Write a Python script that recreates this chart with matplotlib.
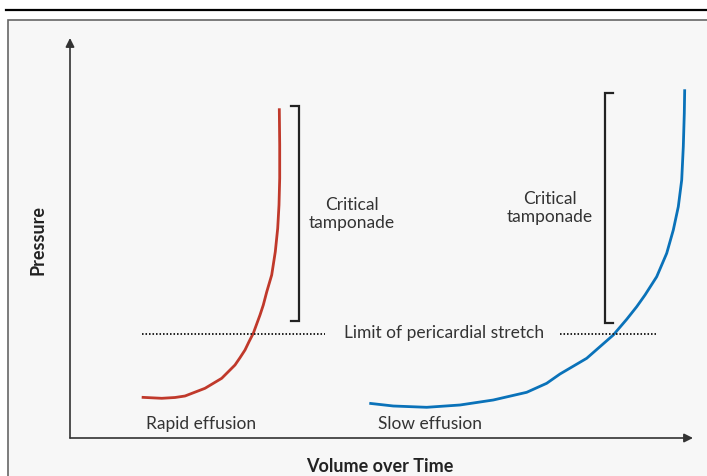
import matplotlib.pyplot as plt
from matplotlib.patches import Rectangle
from matplotlib.lines import Line2D

plt.rcParams['font.family'] = ['Lato', 'DejaVu Sans']

# curves (volume, pressure), origin at the axes corner
rapid_x = [71.7, 91.7, 105, 115, 135, 151.7, 158.3, 165, 170, 175, 179, 183.3, 186.7, 190,
           193.3, 196.7, 201.7, 205.3, 207.7, 209, 209.7, 209.7, 209.3]
rapid_y = [40.7, 39.7, 40.5, 42, 49.7, 59.7, 66.3, 73, 80.3, 88, 96.3, 104.7, 114, 123,
           133, 146, 163, 186.3, 209.7, 233, 259.7, 293, 329.7]
slow_x = [299.3, 323.3, 356.7, 390, 423.3, 456.7, 476.7, 490, 516.7, 543.3, 556.7, 566.7, 575,
          586.7, 596.7, 603.3, 608.3, 611.7, 613.3, 614.3, 614.7]
slow_y = [34.7, 32, 30.7, 33, 38, 45.7, 54.7, 64, 79.7, 103, 118.7, 131.3, 143,
          161.3, 184.7, 208, 231.3, 258, 291.3, 324.7, 348.7]

limit_y = 104
limit_segments = [(72, 255), (490, 586)]
brackets = [  # x, bottom, top, tick direction
    (229, 117, 332, -1),
    (535, 115, 345, 1),
]
red = '#c0392b'
blue = '#0a72b9'
ink = '#333333'

fig = plt.figure(figsize=(7.07, 4.76), dpi=100)
fig.patch.set_facecolor('white')
W, H = 707, 476

# panel and top rule
fig.patches.append(Rectangle((8 / W, -0.05), 1.1, (476 - 20) / H + 0.05, transform=fig.transFigure,
                             facecolor='#f7f7f7', edgecolor='#666666', lw=1.2, zorder=-1))
fig.lines.append(Line2D([6 / W, 1], [1 - 10 / H, 1 - 10 / H], transform=fig.transFigure,
                        color='black', lw=1.6))

ax = fig.add_axes([70 / W, (476 - 438) / H, (693 - 70) / W, (438 - 38) / H])
ax.set_zorder(2)
ax.set_xlim(0, 623)
ax.set_ylim(0, 400)
ax.axis('off')
ax.patch.set_alpha(0)

arrow = dict(arrowstyle='-|>', color=ink, lw=1.2, mutation_scale=13, shrinkA=0, shrinkB=0)
ax.annotate('', xy=(623, 0), xytext=(0, 0), arrowprops=arrow, annotation_clip=False)
ax.annotate('', xy=(0, 400), xytext=(0, 0), arrowprops=arrow, annotation_clip=False)

ax.plot(rapid_x, rapid_y, color=red, lw=2, solid_capstyle='butt', solid_joinstyle='round',
        clip_on=False)
ax.plot(slow_x, slow_y, color=blue, lw=2, solid_capstyle='butt', solid_joinstyle='round',
        clip_on=False)

for x0, x1 in limit_segments:
    ax.plot([x0, x1], [limit_y, limit_y], color='#222222', lw=1.4, linestyle=(0, (0.8, 1.0)))

for bx, b0, b1, d in brackets:
    ax.plot([bx + d * 8, bx, bx, bx + d * 8], [b0, b0, b1, b1], color='#222222', lw=1.6,
            solid_joinstyle='miter')

fs = 12.5
ax.text(282, 224, 'Critical\ntamponade', ha='center', va='center', fontsize=fs, color=ink,
        linespacing=1.15)
ax.text(480, 230, 'Critical\ntamponade', ha='center', va='center', fontsize=fs, color=ink,
        linespacing=1.15)
ax.text(374, limit_y + 1, 'Limit of pericardial stretch', ha='center', va='center', fontsize=fs,
        color=ink)
ax.text(131, 14, 'Rapid effusion', ha='center', va='center', fontsize=fs, color=ink)
ax.text(360, 14, 'Slow effusion', ha='center', va='center', fontsize=fs, color=ink)

fig.text(380 / W, 1 - 467 / H, 'Volume over Time', ha='center', va='center', fontsize=13,
         fontweight='bold', color='#222222')
fig.text(38 / W, 1 - 240 / H, 'Pressure', ha='center', va='center', rotation=90, fontsize=13,
         fontweight='bold', color='#222222')

fig.savefig('out.png', dpi=100)
